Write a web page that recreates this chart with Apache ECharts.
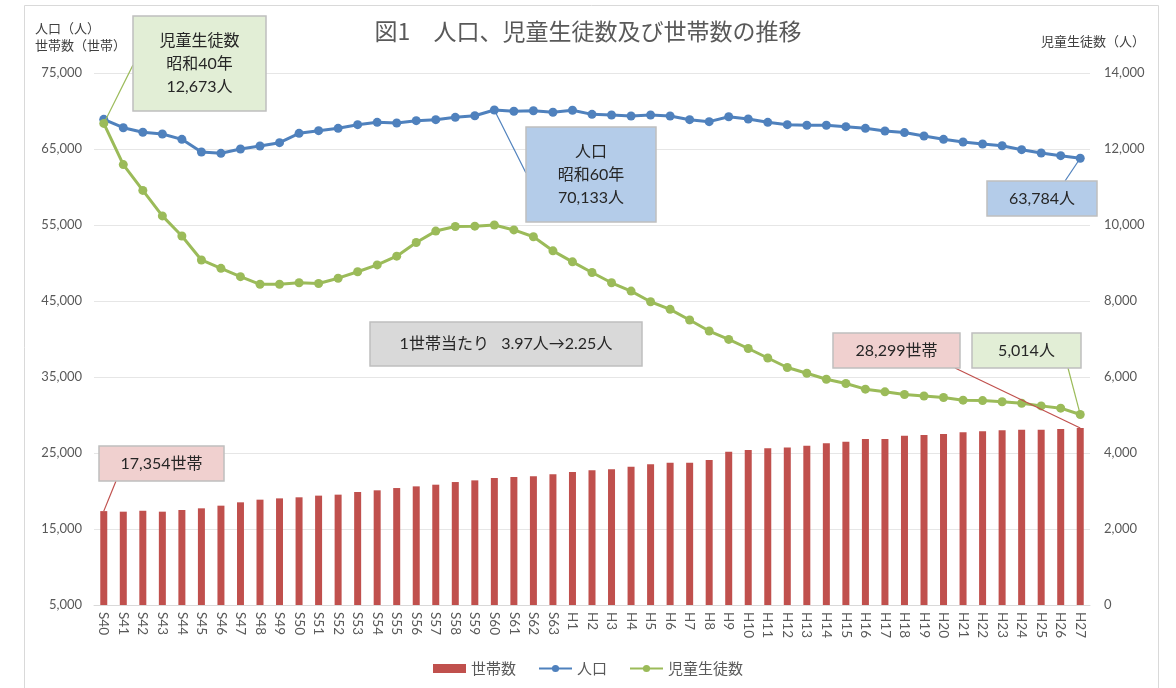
<!DOCTYPE html>
<html>
<head>
<meta charset="utf-8">
<script src="https://cdn.jsdelivr.net/npm/echarts@6/dist/echarts.min.js"></script>
<style>
html, body { margin: 0; background: #fff; }
#chart { width: 1176px; height: 688px; }
</style>
</head>
<body>
<div id="chart"></div>
<script>
// 年度（昭和40年〜平成27年）
const years = [
  'S40','S41','S42','S43','S44','S45','S46','S47','S48','S49','S50','S51','S52','S53','S54','S55',
  'S56','S57','S58','S59','S60','S61','S62','S63',
  'H1','H2','H3','H4','H5','H6','H7','H8','H9','H10','H11','H12','H13','H14','H15','H16','H17',
  'H18','H19','H20','H21','H22','H23','H24','H25','H26','H27'
];
// 世帯数
const households = [
  17354, 17280, 17400, 17280, 17500, 17720, 18070, 18510, 18860, 19030, 19170, 19390, 19520, 19870,
  20090, 20390, 20610, 20830, 21180, 21400, 21710, 21840, 21930, 22190,
  22500, 22720, 22850, 23200, 23510, 23730, 23730, 24080, 25170, 25390, 25610, 25740, 25960, 26270,
  26490, 26840, 26840, 27280, 27370, 27500, 27720, 27850, 27980, 28070, 28070, 28160, 28299
];
// 人口
const population = [
  68900, 67800, 67200, 66970, 66270, 64600, 64430, 65000, 65390, 65830, 67060, 67410, 67720, 68200,
  68510, 68420, 68730, 68860, 69170, 69380, 70133, 69960, 70040, 69830,
  70100, 69560, 69470, 69340, 69470, 69340, 68860, 68600, 69250, 68950, 68510, 68200, 68120, 68120,
  67940, 67720, 67370, 67160, 66710, 66270, 65920, 65660, 65430, 64910, 64470, 64120, 63784
];
// 児童生徒数
const students = [
  12673, 11590, 10910, 10240, 9710, 9080, 8860, 8640, 8440, 8440, 8480, 8460, 8600, 8770,
  8950, 9180, 9540, 9840, 9960, 9970, 10000, 9870, 9690, 9320,
  9030, 8750, 8480, 8260, 7980, 7780, 7500, 7210, 6990, 6750, 6500, 6250, 6100, 5940,
  5830, 5680, 5610, 5540, 5500, 5460, 5390, 5380, 5350, 5310, 5240, 5180, 5014
];
// 左軸の目盛
const leftTicks = [5000, 15000, 25000, 35000, 45000, 55000, 65000, 75000];

const RED = '#c0504d', BLUE = '#4f81bd', GREEN = '#9bbb59';
const FONT = 'Lato, "Noto Sans CJK JP", sans-serif';
const CJK = '"Noto Sans CJK JP", sans-serif';

const chart = echarts.init(document.getElementById('chart'));

const option = {
  backgroundColor: '#fff',
  animation: false,
  title: {
    text: '図1　人口、児童生徒数及び世帯数の推移',
    left: 'center',
    top: 15,
    textStyle: { fontFamily: CJK, fontSize: 23, fontWeight: 'normal', color: '#595959' }
  },
  legend: {
    left: 'center',
    top: 656,
    itemWidth: 33,
    itemHeight: 9,
    itemGap: 22,
    textStyle: { fontFamily: CJK, fontSize: 15, color: '#595959' },
    data: [{ name: '世帯数', icon: 'rect' }, '人口', '児童生徒数']
  },
  grid: { left: 94, right: 86, top: 73, bottom: 83 },
  xAxis: {
    type: 'category',
    data: years,
    boundaryGap: true,
    axisLine: { lineStyle: { color: '#d9d9d9' } },
    axisTick: { show: false },
    axisLabel: { rotate: -90, interval: 0, margin: 7, fontFamily: FONT, fontSize: 13.5, color: '#595959' }
  },
  yAxis: [
    {
      type: 'value', min: 5000, max: 75000, position: 'left',
      axisLine: { show: false }, axisTick: { show: false }, splitLine: { show: false },
      axisLabel: { customValues: leftTicks, margin: 12, fontFamily: FONT, fontSize: 13, color: '#595959' }
    },
    {
      type: 'value', min: 0, max: 14000, interval: 2000, position: 'right',
      axisLine: { show: false }, axisTick: { show: false },
      splitLine: { lineStyle: { color: '#e6e6e6', width: 1 } },
      axisLabel: { margin: 14, fontFamily: FONT, fontSize: 13, color: '#595959' }
    }
  ],
  series: [
    {
      name: '世帯数', type: 'bar', data: households, yAxisIndex: 0,
      barWidth: 7, itemStyle: { color: RED }
    },
    {
      name: '人口', type: 'line', data: population, yAxisIndex: 0,
      symbol: 'circle', symbolSize: 9, showAllSymbol: true,
      itemStyle: { color: BLUE }, lineStyle: { color: BLUE, width: 3 }
    },
    {
      name: '児童生徒数', type: 'line', data: students, yAxisIndex: 1,
      symbol: 'circle', symbolSize: 9, showAllSymbol: true,
      itemStyle: { color: GREEN }, lineStyle: { color: GREEN, width: 3 }
    }
  ]
};
chart.setOption(option);

// 吹き出し（箱の位置は手で配置、引き出し線の先はデータ点から計算）
function box(x, y, w, h, fill, lines) {
  return [
    {
      type: 'rect', z: 100,
      shape: { x: x, y: y, width: w, height: h },
      style: { fill: fill, stroke: '#bfbfbf', lineWidth: 1.5 }
    },
    {
      type: 'text', z: 101,
      x: x + w / 2, y: y + h / 2,
      style: {
        text: lines.join('\n'), fill: '#262626', font: '16px ' + FONT,
        align: 'center', verticalAlign: 'middle', lineHeight: 23
      }
    }
  ];
}
function leader(x1, y1, pt, color) {
  return {
    type: 'line', z: 99,
    shape: { x1: x1, y1: y1, x2: pt[0], y2: pt[1] },
    style: { stroke: color, lineWidth: 1.2 }
  };
}

const last = years.length - 1;
const pS40 = chart.convertToPixel({ xAxisIndex: 0, yAxisIndex: 1 }, [0, students[0]]);
const pS60 = chart.convertToPixel({ xAxisIndex: 0, yAxisIndex: 0 }, [20, population[20]]);
const pH27 = chart.convertToPixel({ xAxisIndex: 0, yAxisIndex: 0 }, [last, population[last]]);
const hH27 = chart.convertToPixel({ xAxisIndex: 0, yAxisIndex: 0 }, [last, households[last]]);
const sH27 = chart.convertToPixel({ xAxisIndex: 0, yAxisIndex: 1 }, [last, students[last]]);
const hS40 = chart.convertToPixel({ xAxisIndex: 0, yAxisIndex: 0 }, [0, households[0]]);

const graphics = [
  // 外枠
  {
    type: 'rect', z: 0, silent: true,
    shape: { x: 24.5, y: 5.5, width: 1134, height: 700 },
    style: { fill: 'none', stroke: '#d9d9d9', lineWidth: 1 }
  },
  // 軸名
  {
    type: 'text', x: 35, y: 20,
    style: { text: '人口（人）\n世帯数（世帯）', fill: '#404040', font: '13px ' + CJK, lineHeight: 17 }
  },
  {
    type: 'text', x: 1145, y: 35,
    style: { text: '児童生徒数（人）', fill: '#404040', font: '13px ' + CJK, align: 'right' }
  },
  leader(133, 65, pS40, GREEN),
  leader(526, 173, pS60, BLUE),
  leader(1065, 181, pH27, BLUE),
  leader(955, 368, hH27, RED),
  leader(1068, 368, sH27, GREEN),
  leader(116, 481, hS40, RED)
]
  .concat(box(133, 16, 133, 95, '#e2eed6', ['児童生徒数', '昭和40年', '12,673人']))
  .concat(box(526, 127, 130, 95, '#b4cce9', ['人口', '昭和60年', '70,133人']))
  .concat(box(987, 181, 110, 35, '#b4cce9', ['63,784人']))
  .concat(box(370, 322, 272, 44, '#d9d9d9', ['1世帯当たり   3.97人→2.25人']))
  .concat(box(833, 333, 127, 35, '#f0d0cf', ['28,299世帯']))
  .concat(box(972, 333, 109, 35, '#e2eed6', ['5,014人']))
  .concat(box(99, 446, 125, 35, '#f0d0cf', ['17,354世帯']));

chart.setOption({ graphic: graphics });
</script>
</body>
</html>
